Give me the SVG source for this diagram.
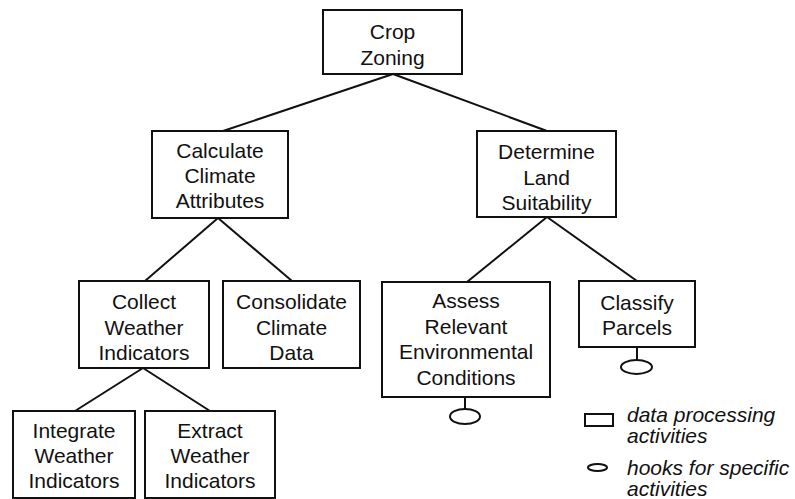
<svg xmlns="http://www.w3.org/2000/svg" width="795" height="499" viewBox="0 0 795 499">
<style>
  .box { fill: #fff; stroke: #111; stroke-width: 2; }
  .hook { fill: #fff; stroke: #111; stroke-width: 2; }
  .edge { stroke: #111; stroke-width: 2; fill: none; }
  .lbl { font-family: "Liberation Sans", Arial, sans-serif; font-size: 21px; fill: #111; text-anchor: middle; }
  .leg { font-family: "Liberation Sans", Arial, sans-serif; font-size: 21px; font-style: italic; fill: #111; }
</style>
<rect width="795" height="499" fill="#fff"/>
<g id="connectors">
  <line class="edge" x1="393" y1="74" x2="223" y2="131"/>
  <line class="edge" x1="393" y1="74" x2="547" y2="131"/>
  <line class="edge" x1="218" y1="218" x2="145" y2="281"/>
  <line class="edge" x1="218" y1="218" x2="292" y2="281"/>
  <line class="edge" x1="143" y1="368" x2="75" y2="411"/>
  <line class="edge" x1="143" y1="368" x2="210" y2="411"/>
  <line class="edge" x1="547" y1="217" x2="467" y2="282"/>
  <line class="edge" x1="547" y1="217" x2="637" y2="281"/>
  <line class="edge" x1="465" y1="397" x2="465" y2="409"/>
  <line class="edge" x1="637" y1="347" x2="637" y2="360"/>
</g>
<g id="crop-zoning">
  <rect class="box" x="323" y="10" width="139" height="64"/>
  <text class="lbl" x="392.5" y="39">Crop</text>
  <text class="lbl" x="392.5" y="65">Zoning</text>
</g>
<g id="calculate-climate-attributes">
  <rect class="box" x="152" y="131" width="136" height="87"/>
  <text class="lbl" x="220" y="158">Calculate</text>
  <text class="lbl" x="220" y="183">Climate</text>
  <text class="lbl" x="220" y="208">Attributes</text>
</g>
<g id="determine-land-suitability">
  <rect class="box" x="477" y="131" width="139" height="86"/>
  <text class="lbl" x="546.5" y="159">Determine</text>
  <text class="lbl" x="546.5" y="184.5">Land</text>
  <text class="lbl" x="546.5" y="210">Suitability</text>
</g>
<g id="collect-weather-indicators">
  <rect class="box" x="79" y="281" width="130" height="87"/>
  <text class="lbl" x="144" y="309">Collect</text>
  <text class="lbl" x="144" y="334.5">Weather</text>
  <text class="lbl" x="144" y="360">Indicators</text>
</g>
<g id="consolidate-climate-data">
  <rect class="box" x="223" y="281" width="137" height="87"/>
  <text class="lbl" x="291.5" y="309">Consolidate</text>
  <text class="lbl" x="291.5" y="334.5">Climate</text>
  <text class="lbl" x="291.5" y="360">Data</text>
</g>
<g id="integrate-weather-indicators">
  <rect class="box" x="13" y="411" width="122" height="87"/>
  <text class="lbl" x="74" y="438">Integrate</text>
  <text class="lbl" x="74" y="463">Weather</text>
  <text class="lbl" x="74" y="488">Indicators</text>
</g>
<g id="extract-weather-indicators">
  <rect class="box" x="145" y="411" width="130" height="87"/>
  <text class="lbl" x="210" y="438">Extract</text>
  <text class="lbl" x="210" y="463">Weather</text>
  <text class="lbl" x="210" y="488">Indicators</text>
</g>
<g id="assess-relevant-environmental-conditions">
  <rect class="box" x="382" y="282" width="168" height="115"/>
  <text class="lbl" x="466" y="308">Assess</text>
  <text class="lbl" x="466" y="333.5">Relevant</text>
  <text class="lbl" x="466" y="359">Environmental</text>
  <text class="lbl" x="466" y="384.5">Conditions</text>
  <ellipse class="hook" cx="465" cy="416.5" rx="15" ry="7.5"/>
</g>
<g id="classify-parcels">
  <rect class="box" x="579" y="281" width="116" height="66"/>
  <text class="lbl" x="637" y="310">Classify</text>
  <text class="lbl" x="637" y="335">Parcels</text>
  <ellipse class="hook" cx="636.5" cy="367" rx="15.5" ry="7"/>
</g>
<g id="legend">
  <rect class="box" x="585" y="414" width="28" height="12"/>
  <text class="leg" x="627" y="422">data processing</text>
  <text class="leg" x="627" y="443">activities</text>
  <ellipse class="hook" cx="597.5" cy="467.5" rx="9.5" ry="3.5"/>
  <text class="leg" x="627" y="475">hooks for specific</text>
  <text class="leg" x="627" y="496">activities</text>
</g>
</svg>
